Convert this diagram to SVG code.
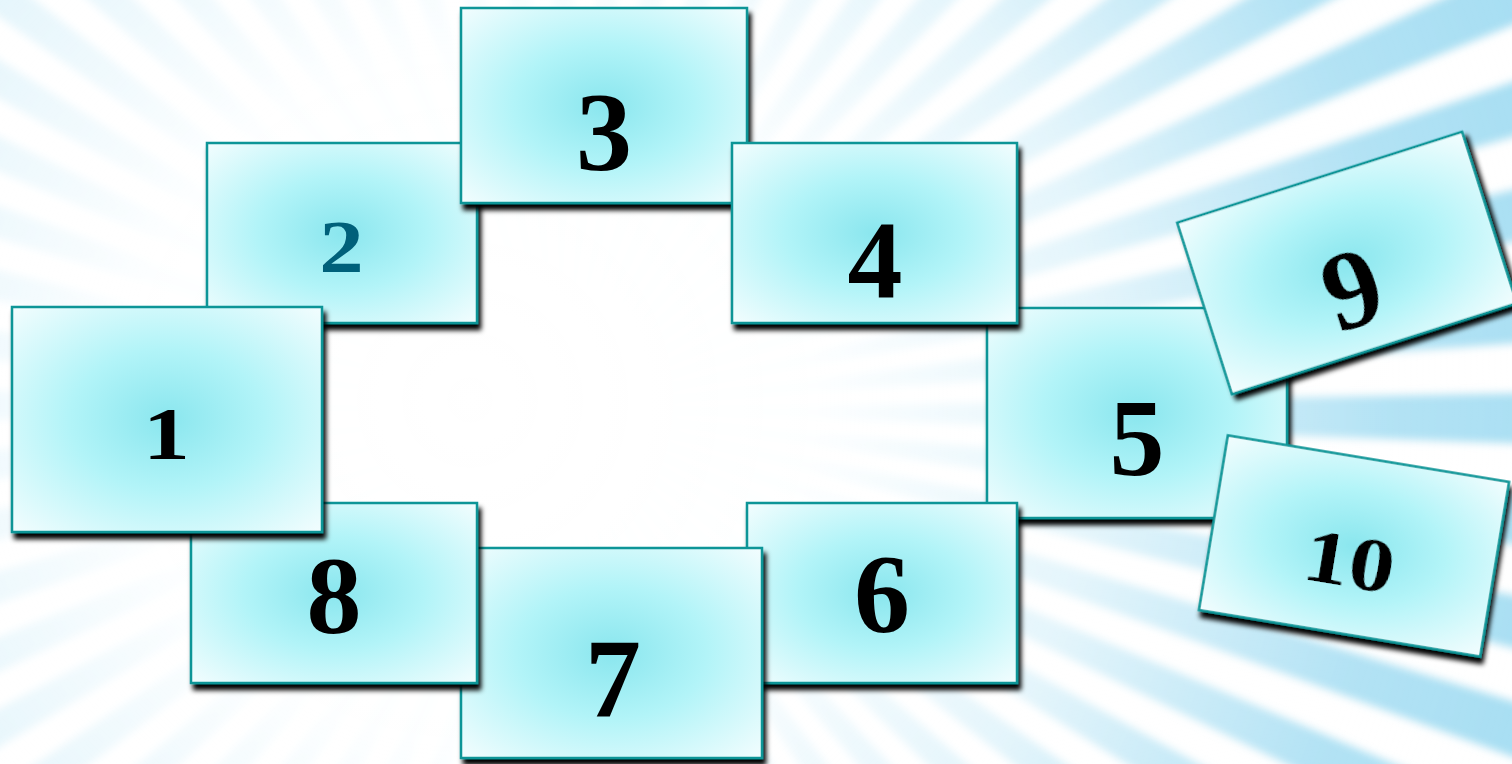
<svg xmlns="http://www.w3.org/2000/svg" xmlns:xlink="http://www.w3.org/1999/xlink" width="1512" height="764" viewBox="0 0 1512 764">
<defs>
<radialGradient id="cardFill" cx="0.5" cy="0.5" r="0.7">
<stop offset="0" stop-color="#8ae6ee"/>
<stop offset="0.45" stop-color="#b2f4f8"/>
<stop offset="1" stop-color="#f2fdfe"/>
</radialGradient>
<radialGradient id="fade" gradientUnits="userSpaceOnUse" cx="470" cy="400" r="1150">
<stop offset="0" stop-color="#ffffff" stop-opacity="1"/>
<stop offset="0.3" stop-color="#ffffff" stop-opacity="0.97"/>
<stop offset="0.55" stop-color="#ffffff" stop-opacity="0.7"/>
<stop offset="0.8" stop-color="#ffffff" stop-opacity="0.15"/>
<stop offset="1" stop-color="#ffffff" stop-opacity="0"/>
</radialGradient>
<filter id="shadow" x="-10%" y="-10%" width="125%" height="130%">
<feDropShadow dx="3" dy="6" stdDeviation="2.8" flood-color="#000000" flood-opacity="1"/>
</filter>
<filter id="soft" x="-5%" y="-5%" width="110%" height="110%">
<feGaussianBlur stdDeviation="4"/>
</filter>
<path id="ray" d="M560,410 L1960,410 L1958,483.3 Z"/>
</defs>
<style>
.card rect { fill: url(#cardFill); stroke: #0b9597; stroke-width: 2.5; }
.card { filter: url(#shadow); }
.num { font-family: "Liberation Serif", "DejaVu Serif", serif; font-weight: bold; fill: #000000; text-anchor: middle; }
.ray { fill: #a6def3; }
</style>
<rect x="0" y="0" width="1512" height="764" fill="#ffffff"/>
<g id="background" filter="url(#soft)">
<g class="ray">
<use xlink:href="#ray" transform="rotate(-1 560 410)"/>
<use xlink:href="#ray" transform="rotate(5 560 410)"/>
<use xlink:href="#ray" transform="rotate(11 560 410)"/>
<use xlink:href="#ray" transform="rotate(17 560 410)"/>
<use xlink:href="#ray" transform="rotate(23 560 410)"/>
<use xlink:href="#ray" transform="rotate(29 560 410)"/>
<use xlink:href="#ray" transform="rotate(35 560 410)"/>
<use xlink:href="#ray" transform="rotate(41 560 410)"/>
<use xlink:href="#ray" transform="rotate(47 560 410)"/>
<use xlink:href="#ray" transform="rotate(53 560 410)"/>
<use xlink:href="#ray" transform="rotate(59 560 410)"/>
<use xlink:href="#ray" transform="rotate(65 560 410)"/>
<use xlink:href="#ray" transform="rotate(71 560 410)"/>
<use xlink:href="#ray" transform="rotate(77 560 410)"/>
<use xlink:href="#ray" transform="rotate(83 560 410)"/>
<use xlink:href="#ray" transform="rotate(89 560 410)"/>
<use xlink:href="#ray" transform="rotate(95 560 410)"/>
<use xlink:href="#ray" transform="rotate(101 560 410)"/>
<use xlink:href="#ray" transform="rotate(107 560 410)"/>
<use xlink:href="#ray" transform="rotate(113 560 410)"/>
<use xlink:href="#ray" transform="rotate(119 560 410)"/>
<use xlink:href="#ray" transform="rotate(125 560 410)"/>
<use xlink:href="#ray" transform="rotate(131 560 410)"/>
<use xlink:href="#ray" transform="rotate(137 560 410)"/>
<use xlink:href="#ray" transform="rotate(143 560 410)"/>
<use xlink:href="#ray" transform="rotate(149 560 410)"/>
<use xlink:href="#ray" transform="rotate(155 560 410)"/>
<use xlink:href="#ray" transform="rotate(161 560 410)"/>
<use xlink:href="#ray" transform="rotate(167 560 410)"/>
<use xlink:href="#ray" transform="rotate(173 560 410)"/>
<use xlink:href="#ray" transform="rotate(179 560 410)"/>
<use xlink:href="#ray" transform="rotate(185 560 410)"/>
<use xlink:href="#ray" transform="rotate(191 560 410)"/>
<use xlink:href="#ray" transform="rotate(197 560 410)"/>
<use xlink:href="#ray" transform="rotate(203 560 410)"/>
<use xlink:href="#ray" transform="rotate(209 560 410)"/>
<use xlink:href="#ray" transform="rotate(215 560 410)"/>
<use xlink:href="#ray" transform="rotate(221 560 410)"/>
<use xlink:href="#ray" transform="rotate(227 560 410)"/>
<use xlink:href="#ray" transform="rotate(233 560 410)"/>
<use xlink:href="#ray" transform="rotate(239 560 410)"/>
<use xlink:href="#ray" transform="rotate(245 560 410)"/>
<use xlink:href="#ray" transform="rotate(251 560 410)"/>
<use xlink:href="#ray" transform="rotate(257 560 410)"/>
<use xlink:href="#ray" transform="rotate(263 560 410)"/>
<use xlink:href="#ray" transform="rotate(269 560 410)"/>
<use xlink:href="#ray" transform="rotate(275 560 410)"/>
<use xlink:href="#ray" transform="rotate(281 560 410)"/>
<use xlink:href="#ray" transform="rotate(287 560 410)"/>
<use xlink:href="#ray" transform="rotate(293 560 410)"/>
<use xlink:href="#ray" transform="rotate(299 560 410)"/>
<use xlink:href="#ray" transform="rotate(305 560 410)"/>
<use xlink:href="#ray" transform="rotate(311 560 410)"/>
<use xlink:href="#ray" transform="rotate(317 560 410)"/>
<use xlink:href="#ray" transform="rotate(323 560 410)"/>
<use xlink:href="#ray" transform="rotate(329 560 410)"/>
<use xlink:href="#ray" transform="rotate(335 560 410)"/>
<use xlink:href="#ray" transform="rotate(341 560 410)"/>
<use xlink:href="#ray" transform="rotate(347 560 410)"/>
<use xlink:href="#ray" transform="rotate(353 560 410)"/>
</g>
</g>
<rect x="0" y="0" width="1512" height="764" fill="url(#fade)"/>
<g id="connectors"/>
<g id="node-5" class="card">
<rect x="987" y="308" width="300" height="210"/>
<text class="num" x="1137" y="475" font-size="110">5</text>
</g>
<g id="node-2" class="card">
<rect x="207" y="143" width="270" height="180"/>
<text class="num" transform="translate(341.5 272) scale(1.2 1)" x="0" y="0" font-size="74" style="fill:#03607a">2</text>
</g>
<g id="node-3" class="card">
<rect x="461" y="8" width="286" height="195"/>
<text class="num" x="604" y="170" font-size="112">3</text>
</g>
<g id="node-4" class="card">
<rect x="732" y="143" width="285" height="180"/>
<text class="num" x="875" y="297" font-size="110">4</text>
</g>
<g id="node-6" class="card">
<rect x="747" y="503" width="270" height="180"/>
<text class="num" x="882" y="632" font-size="112">6</text>
</g>
<g id="node-7" class="card">
<rect x="461" y="548" width="301" height="210"/>
<text class="num" x="613" y="716" font-size="112">7</text>
</g>
<g id="node-8" class="card">
<rect x="191" y="503" width="286" height="180"/>
<text class="num" x="334" y="633" font-size="110">8</text>
</g>
<g id="node-1" class="card">
<rect x="12" y="307" width="310" height="225"/>
<text class="num" transform="translate(166.5 459) scale(1.25 1)" x="0" y="0" font-size="75">1</text>
</g>
<g id="node-9" class="card" transform="translate(1347 263) rotate(-17.7)">
<rect x="-149.5" y="-90" width="299" height="180"/>
<text class="num" x="-3" y="64" font-size="112">9</text>
</g>
<g id="node-10" class="card" transform="translate(1354 546) rotate(9.4)">
<rect x="-142.5" y="-88.5" width="285" height="177"/>
<text class="num" transform="translate(-2 41) scale(1.2 1)" x="0" y="0" font-size="76">10</text>
</g>
</svg>
